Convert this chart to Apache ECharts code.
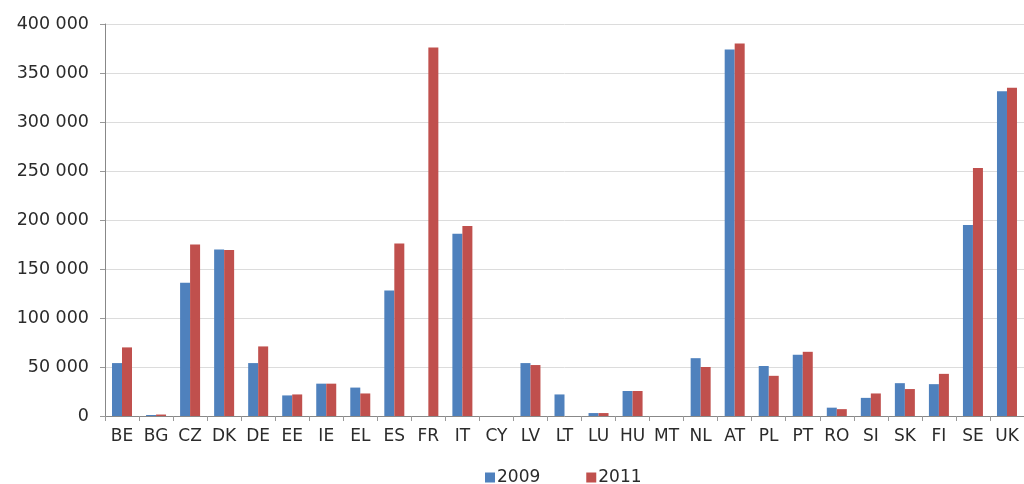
<!DOCTYPE html>
<html>
<head>
<meta charset="utf-8">
<script src="https://cdn.jsdelivr.net/npm/echarts@6/dist/echarts.min.js"></script>
<style>
  html, body { margin: 0; padding: 0; background: #fff; }
  #chart { width: 1024px; height: 484px; }
</style>
</head>
<body>
<div id="chart"></div>
<script>
// Country codes along the x axis
const countries = ['BE','BG','CZ','DK','DE','EE','IE','EL','ES','FR','IT','CY','LV','LT','LU','HU','MT','NL','AT','PL','PT','RO','SI','SK','FI','SE','UK'];
// Values per country, 2009 and 2011
const values2009 = [54000, 1000, 136000, 170000, 54000, 21000, 33000, 29000, 128000, 0, 186000, 0, 54000, 22000, 3000, 25500, 0, 59000, 374000, 51000, 62500, 8500, 18500, 33500, 32500, 195000, 331500];
const values2011 = [70000, 1500, 175000, 169500, 71000, 22000, 33000, 23000, 176000, 376000, 194000, 0, 52000, 0, 3000, 25500, 0, 50000, 380000, 41000, 65500, 7000, 23000, 27500, 43000, 253000, 335000];
const yTicks = { min: 0, max: 400000, interval: 50000 };

const fmt = v => String(v).replace(/\B(?=(\d{3})+(?!\d))/g, ' ');

const chart = echarts.init(document.getElementById('chart'));
chart.setOption({
  animation: false,
  textStyle: { fontFamily: 'DejaVu Sans, Verdana, sans-serif' },
  grid: { left: 105, right: -1, top: 24, bottom: 68 },
  legend: {
    top: 469,
    left: 485,
    padding: 0,
    itemWidth: 10,
    itemHeight: 10,
    itemGap: 46,
    icon: 'rect',
    textStyle: { fontSize: 17, color: '#2b2b2b', padding: [0, 0, 0, -3] },
    data: ['2009', '2011']
  },
  xAxis: {
    type: 'category',
    data: countries,
    axisLine: { lineStyle: { color: '#888' } },
    axisTick: { show: true, length: 5, lineStyle: { color: '#999' } },
    axisLabel: { color: '#2b2b2b', fontSize: 17, margin: 12, interval: 0 }
  },
  yAxis: {
    type: 'value',
    min: yTicks.min,
    max: yTicks.max,
    interval: yTicks.interval,
    axisLine: { show: true, lineStyle: { color: '#888' } },
    axisTick: { show: true, length: 5, lineStyle: { color: '#999' } },
    axisLabel: { color: '#2b2b2b', fontSize: 17.5, margin: 16, formatter: fmt },
    splitLine: { lineStyle: { color: '#dcdcdc' } }
  },
  series: [
    {
      name: '2009',
      type: 'bar',
      data: values2009,
      barWidth: 10,
      barGap: '0%',
      itemStyle: { color: '#4F81BD' }
    },
    {
      name: '2011',
      type: 'bar',
      data: values2011,
      barWidth: 10,
      itemStyle: { color: '#C0504D' }
    }
  ]
});
</script>
</body>
</html>
